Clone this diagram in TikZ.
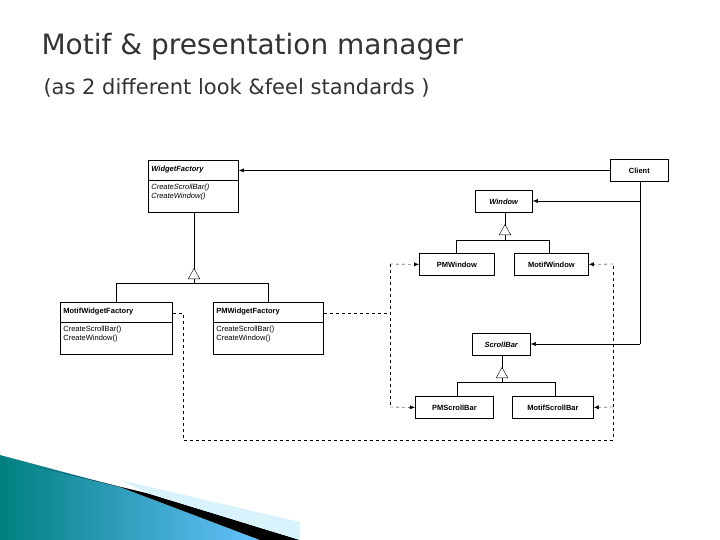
\documentclass[tikz,border=0pt]{standalone}
\usepackage{fontspec}
\setmainfont{DejaVu Sans}
\newfontfamily\boxfont{Liberation Sans}
\usetikzlibrary{arrows.meta,shapes.multipart}

\tikzset{
  cls/.style={draw, thick, fill=white, inner sep=3pt, font=\boxfont\fontsize{7.5}{9}\selectfont, anchor=north west},
  fact/.style={cls, rectangle split, rectangle split parts=2, align=left},
  assoc/.style={-{Latex[length=5pt,width=4pt]}},
  inh/.style={-{Triangle[open,length=11pt,width=12pt]}},
  dsh/.style={dashed, assoc}
}
\newcommand{\hdstrut}{\rule[-5pt]{0pt}{13pt}}
\newcommand{\bdstrut}{\rule[-11pt]{0pt}{0pt}}

\begin{document}
\begin{tikzpicture}[x=1pt,y=-1pt]
\useasboundingbox (0,0) rectangle (720,540);

% titles
\node[anchor=west, text=black!80, font=\fontsize{28}{32}\selectfont] (title) at (38,47) {Motif \& presentation manager};
\node[anchor=west, text=black!80, font=\fontsize{21}{25}\selectfont] (sub) at (40,88) {(as 2 different look \&feel standards )};

% bottom decoration
\shade[left color=cyan!50!black, right color=cyan!60!blue!60] (0,455) -- (120,487) -- (260,540) -- (0,540) -- cycle;
\fill[black] (35,466) -- (150,494) -- (300,540) -- (260,540) -- (120,487) -- cycle;
\fill[cyan!15] (120,480) -- (300,522) -- (300,540) -- (150,494) -- cycle;

% classes
\node[fact, text width=84pt] (wf) at (148,160) {\hdstrut\textit{\textbf{WidgetFactory}}\nodepart{two}\textit{CreateScrollBar()}\\\textit{CreateWindow()}\bdstrut};
\node[fact, text width=106pt] (mwf) at (60,302) {\hdstrut\textbf{MotifWidgetFactory}\nodepart{two}CreateScrollBar()\\CreateWindow()\bdstrut};
\node[fact, text width=104pt] (pmwf) at (213,302) {\hdstrut\textbf{PMWidgetFactory}\nodepart{two}CreateScrollBar()\\CreateWindow()\bdstrut};
\node[cls, minimum width=58pt, minimum height=22pt] (client) at (610,159) {\textbf{Client}};
\node[cls, minimum width=57pt, minimum height=22pt] (win) at (475,190) {\textit{\textbf{Window}}};
\node[cls, minimum width=75pt, minimum height=22pt] (pmw) at (419,253) {\textbf{PMWindow}};
\node[cls, minimum width=74pt, minimum height=22pt] (mw) at (514,253) {\textbf{MotifWindow}};
\node[cls, minimum width=58pt, minimum height=22pt] (sb) at (472,333) {\textit{\textbf{ScrollBar}}};
\node[cls, minimum width=78pt, minimum height=22pt] (pmsb) at (415,396) {\textbf{PMScrollBar}};
\node[cls, minimum width=81pt, minimum height=22pt] (msb) at (512,396) {\textbf{MotifScrollBar}};

% client associations
\draw[assoc] (client.west) -- (client.west -| wf.east);
\coordinate (cw) at (640,201);
\coordinate (cs) at (640,344);
\draw (client.south -| cw) -- (cs);
\draw[assoc] (cw) -- (cw -| win.east);
\draw[assoc] (cs) -- (cs -| sb.east);

% inheritance
\coordinate (wfbar) at (194,283);
\draw (wf.south -| wfbar) -- (194,270);
\draw[inh] (wfbar) -- (194,268);
\draw (mwf.north |- wfbar) -- (mwf.north);
\draw (pmwf.north |- wfbar) -- (pmwf.north);
\draw (mwf.north |- wfbar) -- (pmwf.north |- wfbar);

\coordinate (winbar) at (505,240);
\draw (win.south -| winbar) -- (505,226);
\draw[inh] (winbar) -- (505,224);
\draw (456,240) -- (549,240);
\draw (456,240) -- (456,253);
\draw (549,240) -- (549,253);

\coordinate (sbbar) at (502,382);
\draw (sb.south -| sbbar) -- (502,369);
\draw[inh] (sbbar) -- (502,367);
\draw (457,382) -- (555,382);
\draw (457,382) -- (457,396);
\draw (555,382) -- (555,396);

% creates (dashed)
\coordinate (mv) at (183,440);
\coordinate (mr) at (613,440);
\draw[dashed] ([yshift=-11pt]mwf.north east) -- (183,313) -- (mv) -- (mr) -- (613,264);
\draw[dsh] (613,264) -- (mw.east);
\draw[dsh] (613,407) -- (msb.east);
\draw[dashed] ([yshift=-11pt]pmwf.north east) -- (390,313);
\draw[dashed] (390,264) -- (390,407);
\draw[dsh] (390,264) -- (pmw.west);
\draw[dsh] (390,407) -- (pmsb.west);
\end{tikzpicture}
\end{document}
